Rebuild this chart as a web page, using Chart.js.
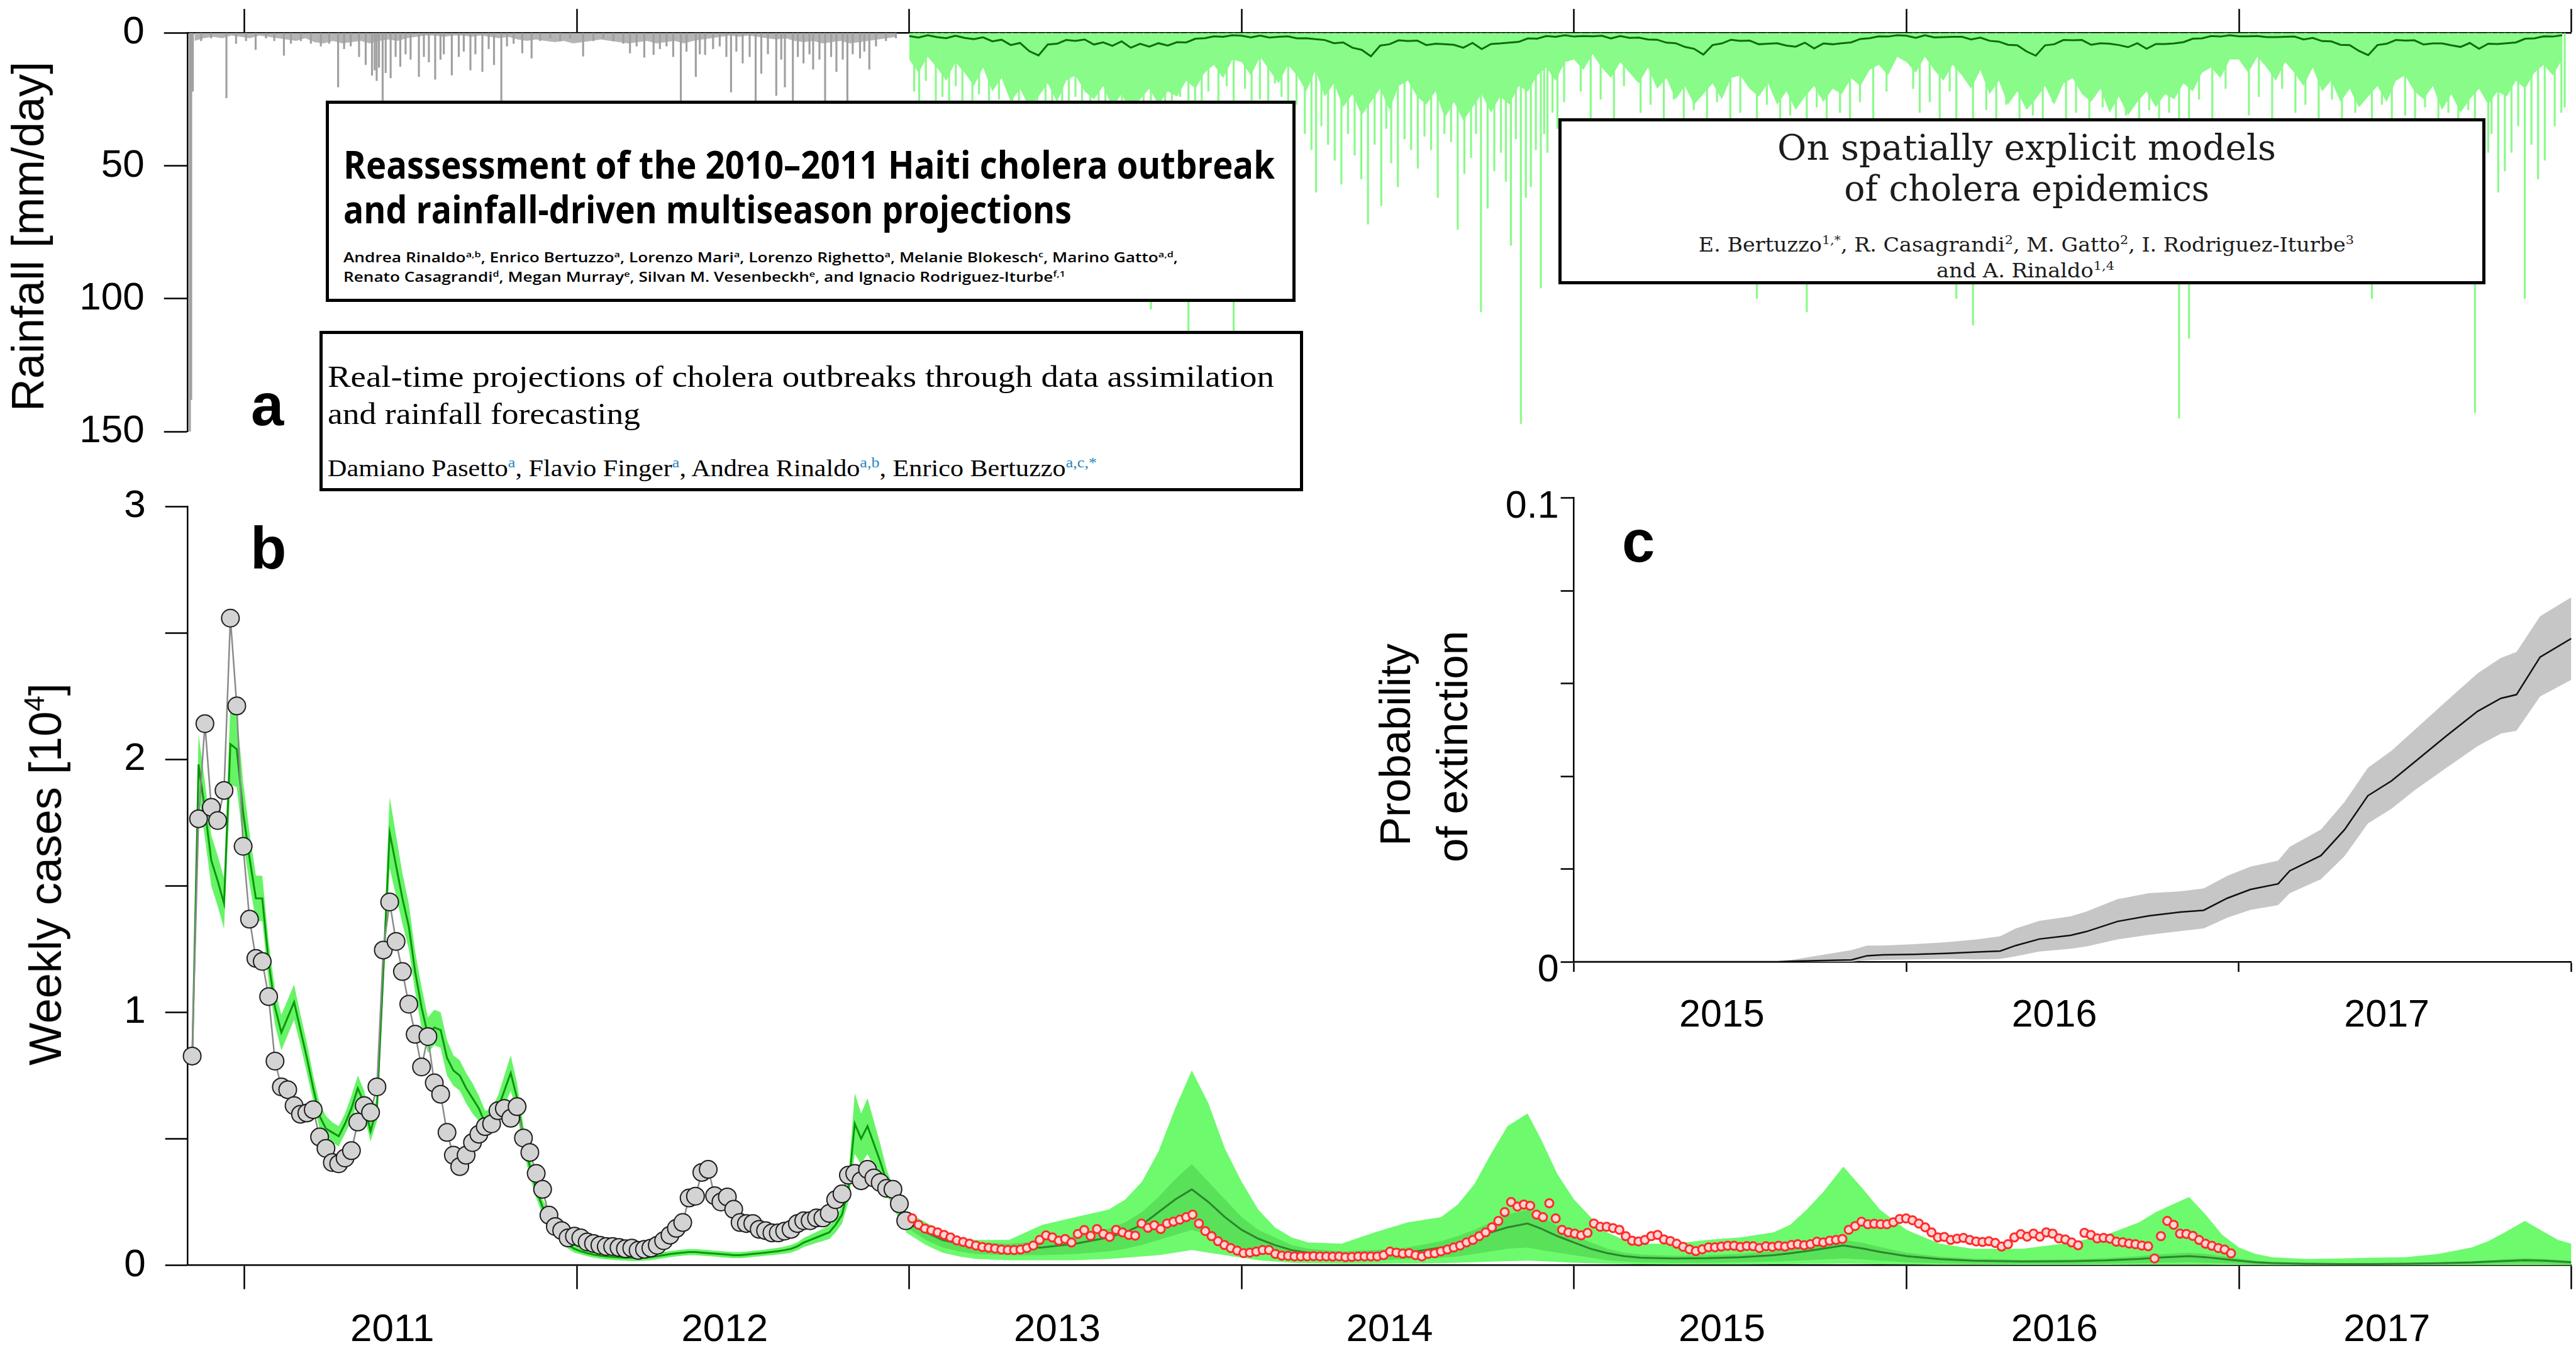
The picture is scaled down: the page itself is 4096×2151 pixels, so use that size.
<!DOCTYPE html>
<html>
<head>
<meta charset="utf-8">
<script src="https://cdn.jsdelivr.net/npm/chart.js@4.4.1/dist/chart.umd.min.js"></script>
<style>
  html, body { margin: 0; padding: 0; background: #fff; }
  #stage { position: relative; width: 4096px; height: 2151px; overflow: hidden; background: #fff; }
  #stage canvas { position: absolute; left: 0; top: 0; }
  .box { position: absolute; box-sizing: border-box; border: 5px solid #000; background: #fff; }
  .txt { position: absolute; white-space: nowrap; line-height: 1.15; color: #000; }
  .txt sup { font-size: 62%; vertical-align: 0; position: relative; top: -0.6em; }
  .blue { color: #2a86c0; }
</style>
</head>
<body>
<div id="stage">
  <canvas id="rainChart" width="4096" height="2151"></canvas>
  <canvas id="caseChart" width="4096" height="2151"></canvas>
  <canvas id="extChart" width="4096" height="2151"></canvas>
</div>
<script>
// ---------------- data ----------------
// tick labels
const yearLabels = ['2011', '2012', '2013', '2014', '2015', '2016', '2017'];
const extYearLabels = ['2015', '2016', '2017'];
const yearBounds = [2011, 2012, 2013, 2014, 2015, 2016, 2017, 2018];
const extYearBounds = [2015, 2016, 2017, 2018];
const rainTickValues = [0, 50, 100, 150];
const rainTickLabels = ['0', '50', '100', '150'];
const caseTickValues = [0, 0.5, 1, 1.5, 2, 2.5, 3];
const caseTickLabels = ['0', '', '1', '', '2', '', '3'];
const extTickValues = [0, 0.02, 0.04, 0.06, 0.08, 0.1];
const extTickLabels = ['0', '', '', '', '', '0.1'];

// observed weekly cases [10^4], weekly from the first report
const obsStart = 2010.843;
const obsCases = [
  0.827, 1.765, 2.141, 1.81, 1.758, 1.877, 2.558, 2.211, 1.656, 1.368,
  1.213, 1.201, 1.062, 0.807, 0.705, 0.694, 0.631, 0.597, 0.602, 0.615,
  0.507, 0.462, 0.406, 0.401, 0.424, 0.453, 0.566, 0.631, 0.604, 0.705,
  1.246, 1.436, 1.28, 1.161, 1.032, 0.913, 0.784, 0.904, 0.721, 0.676,
  0.525, 0.435, 0.39, 0.435, 0.485, 0.518, 0.548, 0.559, 0.611, 0.62,
  0.581, 0.627, 0.503, 0.446, 0.363, 0.30, 0.198, 0.153, 0.137, 0.108,
  0.115, 0.108, 0.092, 0.086, 0.079, 0.074, 0.074, 0.07, 0.065, 0.068,
  0.059, 0.063, 0.068, 0.079, 0.097, 0.119, 0.146, 0.169, 0.266, 0.273,
  0.367, 0.379, 0.275, 0.25, 0.27, 0.221, 0.169, 0.165, 0.165, 0.142,
  0.137, 0.128, 0.128, 0.135, 0.142, 0.165, 0.176, 0.176, 0.187, 0.187,
  0.205, 0.259, 0.282, 0.356, 0.363, 0.334, 0.379, 0.345, 0.327, 0.304,
  0.30, 0.243, 0.176
];

// model fit over the calibration period (same weeks), median and half-width of the band
const fitMedian = [
  0.80, 1.98, 1.80, 1.60, 1.52, 1.43, 2.06, 2.04, 1.79, 1.61,
  1.45, 1.45, 1.20, 1.02, 0.92, 0.98, 1.04, 0.93, 0.82, 0.70,
  0.59, 0.54, 0.525, 0.51, 0.56, 0.62, 0.70, 0.64, 0.53, 0.62,
  1.16, 1.71, 1.58, 1.45, 1.34, 1.16, 1.02, 0.91, 0.94, 0.93,
  0.82, 0.77, 0.75, 0.70, 0.66, 0.62, 0.56, 0.57, 0.62, 0.69,
  0.76, 0.66, 0.50, 0.39, 0.30, 0.23, 0.19, 0.14, 0.11, 0.08,
  0.065, 0.055, 0.048, 0.042, 0.038, 0.035, 0.033, 0.031, 0.030, 0.029,
  0.029, 0.030, 0.032, 0.036, 0.040, 0.044, 0.047, 0.050, 0.052, 0.052,
  0.050, 0.048, 0.046, 0.044, 0.042, 0.040, 0.040, 0.042, 0.045, 0.047,
  0.050, 0.053, 0.056, 0.060, 0.065, 0.075, 0.090, 0.100, 0.110, 0.120,
  0.130, 0.160, 0.200, 0.300, 0.560, 0.500, 0.550, 0.480, 0.410, 0.330,
  0.270, 0.220, 0.170
];
const fitSpread = [
  0.06, 0.12, 0.11, 0.10, 0.10, 0.10, 0.16, 0.15, 0.12, 0.10,
  0.09, 0.09, 0.08, 0.07, 0.07, 0.07, 0.07, 0.06, 0.06, 0.05,
  0.05, 0.05, 0.04, 0.04, 0.04, 0.05, 0.05, 0.05, 0.04, 0.05,
  0.08, 0.14, 0.12, 0.10, 0.09, 0.08, 0.08, 0.07, 0.07, 0.07,
  0.07, 0.06, 0.06, 0.06, 0.06, 0.05, 0.05, 0.05, 0.05, 0.06,
  0.07, 0.06, 0.05, 0.04, 0.035, 0.03, 0.025, 0.02, 0.02, 0.015,
  0.015, 0.012, 0.012, 0.012, 0.012, 0.012, 0.012, 0.012, 0.012, 0.012,
  0.012, 0.012, 0.012, 0.012, 0.012, 0.012, 0.012, 0.012, 0.012, 0.012,
  0.012, 0.012, 0.012, 0.012, 0.012, 0.012, 0.012, 0.012, 0.012, 0.012,
  0.012, 0.013, 0.013, 0.014, 0.015, 0.016, 0.018, 0.02, 0.022, 0.024,
  0.026, 0.03, 0.035, 0.05, 0.12, 0.10, 0.11, 0.09, 0.07, 0.05,
  0.04, 0.04, 0.03
];

// later weekly reports (red), from January 2013
const laterStart = 2013.009;
const laterCases = [
  // 2013
  0.185, 0.16, 0.145, 0.138, 0.13, 0.12, 0.11, 0.098, 0.092, 0.085,
  0.078, 0.072, 0.069, 0.066, 0.062, 0.06, 0.06, 0.062, 0.068, 0.078,
  0.1, 0.118, 0.11, 0.097, 0.104, 0.09, 0.124, 0.139, 0.116, 0.143,
  0.124, 0.112, 0.14, 0.13, 0.12, 0.117, 0.165, 0.148, 0.158, 0.143,
  0.165, 0.172, 0.18, 0.19, 0.2, 0.165, 0.135, 0.115, 0.095, 0.08,
  0.068, 0.058,
  // 2014
  0.048, 0.05, 0.054, 0.06, 0.06, 0.045, 0.038, 0.037, 0.035, 0.035,
  0.035, 0.036, 0.035, 0.035, 0.034, 0.035, 0.032, 0.033, 0.035, 0.035,
  0.035, 0.035, 0.04, 0.054, 0.05, 0.046, 0.048, 0.04, 0.035, 0.045,
  0.047, 0.055, 0.062, 0.07, 0.078, 0.09, 0.1, 0.115, 0.13, 0.15,
  0.175, 0.21, 0.25, 0.232, 0.24, 0.235, 0.2, 0.19, 0.245, 0.185,
  0.14, 0.13,
  // 2015
  0.125, 0.118, 0.128, 0.165, 0.152, 0.152, 0.147, 0.14, 0.115, 0.097,
  0.094, 0.1, 0.115, 0.12, 0.102, 0.096, 0.085, 0.073, 0.063, 0.056,
  0.063, 0.071, 0.071, 0.074, 0.077, 0.077, 0.072, 0.076, 0.075, 0.068,
  0.075, 0.073, 0.077, 0.074, 0.08, 0.083, 0.079, 0.083, 0.093, 0.09,
  0.097, 0.1, 0.104, 0.14, 0.155, 0.172, 0.162, 0.164, 0.162, 0.162,
  0.17, 0.183,
  // 2016
  0.185, 0.178, 0.165, 0.15, 0.13, 0.11, 0.112, 0.1, 0.105, 0.108,
  0.1, 0.094, 0.092, 0.095, 0.088, 0.074, 0.083, 0.11, 0.123, 0.113,
  0.125, 0.113, 0.13, 0.125, 0.106, 0.102, 0.09, 0.079, 0.128, 0.12,
  0.106, 0.108, 0.105, 0.093, 0.091, 0.086, 0.083, 0.078, 0.075, 0.027,
  0.115, 0.175, 0.16, 0.125, 0.124, 0.116, 0.1, 0.085, 0.077, 0.068,
  0.062, 0.047
];

// multiseason projection
const projDates = [
  2012.99, 2013.05, 2013.10, 2013.15, 2013.20, 2013.30, 2013.40, 2013.50, 2013.60, 2013.65,
  2013.70, 2013.75, 2013.80, 2013.85, 2013.90, 2013.95, 2014.00, 2014.05, 2014.10, 2014.15,
  2014.20, 2014.30, 2014.40, 2014.50, 2014.60, 2014.65, 2014.70, 2014.75, 2014.80, 2014.86,
  2014.90, 2014.95, 2015.00, 2015.05, 2015.10, 2015.15, 2015.20, 2015.30, 2015.40, 2015.50,
  2015.60, 2015.65, 2015.70, 2015.75, 2015.81, 2015.87, 2015.92, 2016.00, 2016.10, 2016.20,
  2016.35, 2016.50, 2016.60, 2016.70, 2016.75, 2016.85, 2016.90, 2016.95, 2017.00, 2017.05,
  2017.10, 2017.20, 2017.30, 2017.40, 2017.50, 2017.60, 2017.70, 2017.75, 2017.80, 2017.86,
  2017.92, 2017.96, 2018.00
];
const projHigh = [
  0.21, 0.17, 0.135, 0.11, 0.10, 0.10, 0.16, 0.19, 0.22, 0.26,
  0.33, 0.45, 0.62, 0.77, 0.64, 0.46, 0.33, 0.22, 0.15, 0.11,
  0.09, 0.085, 0.13, 0.17, 0.19, 0.24, 0.32, 0.44, 0.55, 0.60,
  0.50, 0.36, 0.26, 0.19, 0.13, 0.10, 0.085, 0.085, 0.10, 0.11,
  0.13, 0.16, 0.22, 0.29, 0.39, 0.30, 0.22, 0.14, 0.085, 0.065,
  0.065, 0.09, 0.12, 0.17, 0.21, 0.27, 0.20, 0.12, 0.07, 0.045,
  0.032, 0.025, 0.027, 0.03, 0.032, 0.045, 0.07, 0.095, 0.13, 0.175,
  0.13, 0.10, 0.085
];
const projMedian = [
  0.17, 0.13, 0.10, 0.085, 0.075, 0.065, 0.07, 0.085, 0.11, 0.13,
  0.16, 0.21, 0.26, 0.30, 0.25, 0.19, 0.14, 0.105, 0.08, 0.06,
  0.05, 0.04, 0.042, 0.05, 0.07, 0.085, 0.105, 0.13, 0.15, 0.165,
  0.145, 0.115, 0.09, 0.065, 0.048, 0.036, 0.03, 0.027, 0.028, 0.032,
  0.04, 0.047, 0.056, 0.066, 0.078, 0.066, 0.053, 0.036, 0.024, 0.018,
  0.015, 0.016, 0.019, 0.025, 0.03, 0.036, 0.032, 0.025, 0.018, 0.012,
  0.009, 0.006, 0.005, 0.005, 0.006, 0.008, 0.011, 0.014, 0.017, 0.02,
  0.018, 0.015, 0.012
];
const projLow = [
  0.13, 0.08, 0.05, 0.035, 0.025, 0.02, 0.02, 0.02, 0.025, 0.03,
  0.035, 0.04, 0.05, 0.06, 0.05, 0.04, 0.03, 0.02, 0.015, 0.01,
  0.008, 0.006, 0.006, 0.007, 0.008, 0.01, 0.012, 0.014, 0.016, 0.018,
  0.016, 0.013, 0.01, 0.008, 0.006, 0.005, 0.004, 0.003, 0.003, 0.003,
  0.004, 0.004, 0.005, 0.005, 0.006, 0.005, 0.004, 0.003, 0.002, 0.002,
  0.001, 0.001, 0.001, 0.002, 0.002, 0.002, 0.002, 0.001, 0.001, 0.001,
  0, 0, 0, 0, 0, 0, 0, 0, 0, 0,
  0, 0, 0
];
const projInnerHigh = [
  0.19, 0.15, 0.12, 0.10, 0.09, 0.085, 0.095, 0.115, 0.145, 0.17,
  0.21, 0.27, 0.34, 0.40, 0.33, 0.26, 0.19, 0.14, 0.11, 0.08,
  0.065, 0.055, 0.06, 0.07, 0.095, 0.115, 0.14, 0.17, 0.20, 0.22,
  0.195, 0.155, 0.12, 0.09, 0.065, 0.05, 0.042, 0.038, 0.04, 0.045,
  0.055, 0.065, 0.075, 0.088, 0.10, 0.088, 0.072, 0.05, 0.034, 0.026,
  0.022, 0.023, 0.028, 0.036, 0.042, 0.05, 0.045, 0.036, 0.027, 0.018,
  0.013, 0.009, 0.008, 0.008, 0.009, 0.012, 0.016, 0.02, 0.024, 0.028,
  0.025, 0.021, 0.018
];
const projInnerLow = [
  0.15, 0.10, 0.07, 0.055, 0.045, 0.04, 0.04, 0.045, 0.055, 0.065,
  0.08, 0.10, 0.12, 0.14, 0.12, 0.09, 0.07, 0.05, 0.04, 0.03,
  0.025, 0.02, 0.02, 0.025, 0.03, 0.035, 0.045, 0.055, 0.065, 0.07,
  0.06, 0.05, 0.04, 0.03, 0.02, 0.015, 0.012, 0.01, 0.01, 0.012,
  0.015, 0.017, 0.02, 0.023, 0.027, 0.023, 0.018, 0.012, 0.008, 0.006,
  0.005, 0.005, 0.006, 0.008, 0.01, 0.012, 0.01, 0.008, 0.006, 0.004,
  0.003, 0.002, 0.002, 0.002, 0.002, 0.003, 0.004, 0.005, 0.006, 0.007,
  0.006, 0.005, 0.004
];

// probability of extinction (panel c)
const extDates = [
  2015.0, 2015.612, 2015.647, 2015.835, 2015.882, 2015.929, 2016.024, 2016.118, 2016.212, 2016.282,
  2016.329, 2016.4, 2016.494, 2016.541, 2016.635, 2016.729, 2016.824, 2016.894, 2016.965, 2017.035,
  2017.118, 2017.153, 2017.247, 2017.318, 2017.388, 2017.459, 2017.529, 2017.624, 2017.718, 2017.788,
  2017.835, 2017.906, 2018.0
];
const extMedian = [
  0, 0, 0.0001, 0.0004, 0.0013, 0.0015, 0.0016, 0.0018, 0.0021, 0.0023,
  0.0035, 0.0049, 0.0057, 0.0065, 0.0087, 0.0099, 0.0107, 0.0111, 0.0137, 0.0156,
  0.0168, 0.0196, 0.0229, 0.0285, 0.0358, 0.039, 0.0431, 0.0487, 0.054, 0.0568,
  0.0576, 0.0657, 0.0697
];
const extHigh = [
  0, 0, 0.0003, 0.0025, 0.0035, 0.0035, 0.0038, 0.0042, 0.0048, 0.0055,
  0.0072, 0.0088, 0.0098, 0.0108, 0.0135, 0.0148, 0.0152, 0.0158, 0.0185, 0.0205,
  0.0218, 0.0248, 0.0285, 0.0345, 0.0418, 0.0455, 0.05, 0.0562, 0.0622, 0.0655,
  0.0668, 0.0745, 0.0786
];
const extLow = [
  0, 0, 0, 0, 0.0003, 0.0004, 0.0005, 0.0006, 0.0005, 0.0006,
  0.0012, 0.0022, 0.0028, 0.0033, 0.0048, 0.0058, 0.0066, 0.0072, 0.0095, 0.0112,
  0.0122, 0.0148, 0.0178, 0.0228, 0.0298, 0.033, 0.037, 0.0418, 0.0465, 0.0492,
  0.0498, 0.0572, 0.0608
];

// observed daily rainfall, main events [year, mm/day]
const obsRainEvents = [
  [2010.836, 150], [2010.840, 138], [2010.845, 22], [2010.870, 3], [2010.900, 2], [2010.946, 24.5],
  [2010.975, 4], [2011.005, 3], [2011.034, 6.3], [2011.065, 2], [2011.090, 3], [2011.119, 8.5],
  [2011.140, 4], [2011.170, 3], [2011.200, 4], [2011.230, 5], [2011.255, 4], [2011.282, 20.4],
  [2011.300, 6], [2011.320, 5], [2011.345, 9], [2011.365, 12], [2011.384, 16], [2011.392, 14],
  [2011.398, 18], [2011.405, 13], [2011.416, 30], [2011.425, 15], [2011.440, 17], [2011.455, 9],
  [2011.469, 12.7], [2011.485, 8], [2011.500, 10], [2011.525, 16.5], [2011.540, 9], [2011.555, 11],
  [2011.574, 17.5], [2011.590, 10], [2011.600, 8], [2011.624, 15.9], [2011.645, 9], [2011.660, 7],
  [2011.680, 14], [2011.695, 8], [2011.716, 14.6], [2011.735, 6], [2011.751, 12], [2011.773, 30],
  [2011.790, 5], [2011.810, 4], [2011.836, 7.6], [2011.864, 9.5], [2011.890, 3], [2011.920, 2],
  [2011.950, 3], [2011.980, 2], [2012.019, 8.8], [2012.050, 3], [2012.080, 2], [2012.110, 3],
  [2012.140, 4], [2012.160, 7.6], [2012.180, 5], [2012.203, 9.2], [2012.231, 8.2], [2012.250, 6],
  [2012.270, 5], [2012.290, 9], [2012.313, 30], [2012.330, 7], [2012.358, 16.5], [2012.370, 8],
  [2012.386, 8.2], [2012.410, 6], [2012.430, 5], [2012.450, 9], [2012.464, 22.3], [2012.480, 7],
  [2012.499, 11.4], [2012.520, 9], [2012.538, 30], [2012.555, 15.3], [2012.575, 8], [2012.600, 23.6],
  [2012.615, 10], [2012.626, 20.4], [2012.650, 30], [2012.665, 9], [2012.682, 11.4], [2012.700, 8],
  [2012.711, 13.7], [2012.730, 10], [2012.747, 30], [2012.765, 9], [2012.781, 14.6], [2012.800, 10],
  [2012.814, 30], [2012.830, 8], [2012.852, 9.5], [2012.865, 7], [2012.880, 13.7], [2012.900, 5],
  [2012.930, 3], [2012.960, 2]
];
// light daily rain under the main events, every ~10 days from Nov 2010
const obsRainStart = 2010.85;
const obsRainLight = [
  3, 2, 1.5, 2, 1, 1.5, 2, 1, 1.5, 2,
  2.5, 3, 2, 3.5, 4, 3, 4, 3.5, 3, 4,
  3, 2.5, 3, 2, 1.5, 1, 1, 1.5, 1, 1,
  1.5, 1, 1.5, 2, 1.5, 2.5, 3, 2.5, 3, 3.5,
  3, 4, 3.5, 3, 2.5, 3, 3.5, 4, 3.5, 3,
  4, 3.5, 3, 4, 3, 2.5, 2, 1.5, 1, 1.5,
  1, 1.5, 2, 2.5, 2, 3, 3.5, 3, 4, 3.5,
  3, 4, 3.5, 3, 2.5, 2, 1.5
];

// generated rainfall ensemble 2013-2017, ~10-day steps (36 per year)
const rainGenStart = 2013.0;
const rainGenSpread = [
  10, 15, 9, 13, 18, 11, 15, 20, 13, 22, 17, 26, 21, 28, 24, 19, 26, 18,
  16, 22, 25, 20, 28, 23, 30, 25, 21, 27, 22, 24, 18, 21, 15, 12, 17, 10,
  11, 16, 9, 14, 19, 12, 16, 22, 14, 24, 19, 28, 23, 31, 26, 21, 29, 20,
  18, 24, 27, 22, 32, 26, 33, 28, 23, 30, 24, 27, 20, 22, 16, 13, 18, 11,
  10, 14, 8, 13, 17, 11, 15, 19, 13, 21, 17, 25, 20, 27, 23, 19, 25, 17,
  16, 21, 24, 19, 27, 22, 29, 24, 20, 26, 21, 23, 17, 20, 14, 12, 16, 9,
  11, 15, 9, 14, 18, 12, 16, 21, 14, 23, 18, 27, 22, 29, 25, 20, 27, 19,
  17, 23, 26, 21, 30, 24, 31, 26, 22, 28, 23, 25, 19, 22, 15, 13, 17, 10,
  10, 15, 9, 13, 18, 11, 15, 20, 13, 22, 18, 26, 21, 28, 24, 20, 26, 18,
  16, 22, 25, 20, 29, 23, 30, 25, 21, 27, 22, 24, 18, 21, 15, 12, 16, 10
];
const rainGenMedian = [
  1.2, 1.8, 0.9, 1.6, 2.0, 1.1, 1.9, 2.4, 1.7, 3.2, 2.6, 4.6, 3.8, 6.9, 8.5, 4.4, 4.1, 2.7,
  3.0, 2.5, 4.4, 3.6, 4.9, 3.2, 5.6, 4.1, 5.2, 3.9, 4.8, 3.5, 3.6, 2.2, 2.0, 1.3, 1.5, 0.9,
  1.1, 1.7, 1.0, 1.8, 1.5, 1.3, 2.1, 2.0, 2.4, 2.7, 3.9, 3.6, 5.6, 6.4, 8.8, 4.8, 4.3, 2.8,
  3.1, 2.9, 4.6, 4.1, 4.3, 4.5, 5.6, 3.8, 6.1, 4.2, 4.0, 3.7, 3.4, 2.1, 2.2, 1.2, 1.5, 0.9,
  1.4, 1.2, 1.3, 1.1, 2.1, 1.2, 1.9, 1.8, 2.5, 2.6, 3.7, 3.9, 5.3, 6.0, 8.2, 4.6, 4.0, 2.6,
  3.0, 2.9, 4.3, 4.1, 3.9, 4.8, 5.2, 3.7, 5.9, 4.0, 4.3, 3.9, 3.6, 2.3, 2.0, 1.3, 1.4, 0.9,
  1.1, 1.9, 0.9, 1.7, 1.6, 1.5, 1.5, 2.5, 1.8, 3.0, 3.3, 4.5, 4.7, 7.0, 8.6, 4.7, 4.3, 2.7,
  2.8, 2.7, 4.5, 3.9, 4.1, 4.6, 5.4, 3.9, 6.0, 4.2, 4.2, 4.0, 3.5, 2.2, 2.1, 1.2, 1.4, 0.9,
  1.3, 1.3, 1.2, 1.6, 1.6, 1.5, 1.4, 2.5, 1.9, 3.1, 3.2, 4.5, 4.6, 6.8, 8.4, 4.6, 4.1, 2.7,
  2.9, 2.8, 4.4, 4.0, 4.0, 4.7, 5.3, 3.8, 6.0, 4.1, 4.2, 3.9, 3.6, 2.2, 2.1, 1.3, 1.4, 0.9
];
// isolated heavy days within the generated ensemble [year, mm/day]
const rainGenEvents = [
  [2013.03, 30], [2013.08, 34], [2013.12, 28], [2013.19, 38], [2013.24, 31], [2013.31, 45],
  [2013.36, 40], [2013.41, 52], [2013.46, 36], [2013.52, 44], [2013.57, 33], [2013.62, 48],
  [2013.68, 39], [2013.727, 104], [2013.77, 42], [2013.84, 115], [2013.88, 37], [2013.93, 30],
  [2013.976, 115], [2014.03, 28], [2014.08, 33], [2014.14, 30], [2014.19, 38], [2014.224, 60],
  [2014.26, 42], [2014.30, 57], [2014.34, 46], [2014.38, 72], [2014.42, 65], [2014.45, 49],
  [2014.49, 40], [2014.53, 51], [2014.57, 44], [2014.61, 38], [2014.65, 74], [2014.69, 47],
  [2014.72, 105], [2014.76, 52], [2014.81, 80], [2014.84, 147], [2014.87, 58], [2014.90, 96],
  [2014.92, 45], [2014.95, 36], [2015.05, 32], [2015.12, 35], [2015.20, 30], [2015.27, 40],
  [2015.33, 45], [2015.40, 38], [2015.47, 50], [2015.55, 100], [2015.62, 42], [2015.70, 105],
  [2015.76, 44], [2015.83, 48], [2015.90, 36], [2016.04, 30], [2016.10, 34], [2016.15, 100],
  [2016.20, 110], [2016.27, 42], [2016.34, 50], [2016.41, 39], [2016.48, 46], [2016.55, 40],
  [2016.63, 52], [2016.70, 44], [2016.76, 38], [2016.82, 145], [2016.85, 115], [2016.92, 34],
  [2017.03, 31], [2017.10, 36], [2017.17, 30], [2017.24, 42], [2017.31, 48], [2017.40, 100],
  [2017.46, 44], [2017.53, 52], [2017.60, 40], [2017.66, 47], [2017.71, 143], [2017.75, 45],
  [2017.78, 60], [2017.82, 45], [2017.86, 100], [2017.90, 55], [2017.95, 35], [2017.98, 28],
  [2013.015, 22], [2013.05, 18], [2013.10, 24], [2013.14, 20], [2013.16, 26], [2013.21, 23],
  [2013.27, 25], [2013.29, 20], [2013.33, 28], [2013.385, 30], [2013.43, 26], [2013.48, 29],
  [2013.50, 24], [2013.545, 27], [2013.59, 31], [2013.64, 28], [2013.66, 25], [2013.705, 30],
  [2013.75, 27], [2013.79, 29], [2013.815, 24], [2013.86, 26], [2013.90, 22], [2013.955, 20],
  [2014.01, 21], [2014.055, 25], [2014.10, 19], [2014.12, 24], [2014.165, 27], [2014.21, 44],
  [2014.24, 35], [2014.28, 48], [2014.32, 38], [2014.36, 55], [2014.40, 42], [2014.435, 36],
  [2014.47, 58], [2014.51, 44], [2014.55, 39], [2014.59, 62], [2014.63, 41], [2014.67, 53],
  [2014.705, 38], [2014.74, 66], [2014.78, 45], [2014.795, 56], [2014.825, 40], [2014.855, 62],
  [2014.885, 44], [2014.91, 38], [2014.935, 30], [2014.97, 26], [2015.02, 22], [2015.08, 25],
  [2015.15, 20], [2015.23, 27], [2015.30, 25], [2015.36, 29], [2015.43, 26], [2015.50, 30],
  [2015.58, 27], [2015.65, 31], [2015.73, 28], [2015.80, 30], [2015.86, 26], [2015.94, 22],
  [2016.02, 21], [2016.07, 26], [2016.13, 22], [2016.24, 29], [2016.30, 27], [2016.38, 31],
  [2016.44, 26], [2016.51, 30], [2016.59, 28], [2016.66, 31], [2016.73, 29], [2016.79, 30],
  [2016.88, 25], [2016.96, 21], [2017.06, 24], [2017.13, 21], [2017.20, 27], [2017.28, 25],
  [2017.35, 30], [2017.43, 27], [2017.50, 31], [2017.56, 28], [2017.63, 30], [2017.69, 29],
  [2017.76, 38], [2017.80, 52], [2017.84, 35], [2017.88, 42], [2017.92, 48], [2017.97, 30]
];

// ---------------- helpers ----------------
const SANS = "'Liberation Sans', Arial, Helvetica, sans-serif";
const AXIS = '#000';
const AXW = 2.5;
const W = 4096, H = 2151;
const X_MIN = 2010.83, X_MAX = 2018.0;
const PLOT_LEFT = 298.7, PLOT_RIGHT = 4088.6;

const weekly = (start, n) => Array.from({ length: n }, (_, i) => start + i * 7 / 365.25);
const stepped = (start, n, per) => Array.from({ length: n }, (_, i) => start + i / per);
const pts = (xs, ys) => ys.map((y, i) => ({ x: xs[i], y }));

// horizontal date axis: tick marks at year boundaries, labels inside each year
function timeAxis(o) {
  const values = o.bounds.concat(o.labels.map(l => +l + 0.445));
  const nb = o.bounds.length;
  return {
    type: 'linear', position: o.position, min: o.min, max: o.max, offset: false, z: 2,
    border: { display: true, color: AXIS, width: AXW },
    grid: {
      display: true, drawOnChartArea: false, drawTicks: true, offset: false,
      tickLength: o.tickLength, tickWidth: AXW,
      tickColor: c => (c.index < nb ? AXIS : 'rgba(0,0,0,0)')
    },
    ticks: {
      autoSkip: false, maxRotation: 0, minRotation: 0, padding: o.padding, color: AXIS,
      font: { family: SANS, size: o.fontSize },
      callback: (v, i) => (i < nb ? '' : o.labels[i - nb])
    },
    afterBuildTicks: s => { s.ticks = values.map(v => ({ value: v })); },
    afterFit: s => { s.height = o.boxHeight; s.paddingLeft = 0; s.paddingRight = 0; }
  };
}

function valueAxis(o) {
  return {
    type: 'linear', position: 'left', min: o.min, max: o.max, reverse: !!o.reverse, z: 2,
    border: { display: true, color: AXIS, width: AXW },
    grid: { display: true, drawOnChartArea: false, drawTicks: true, tickLength: o.tickLength, tickWidth: AXW, tickColor: AXIS },
    ticks: {
      autoSkip: false, padding: o.padding, color: AXIS, labelOffset: o.labelOffset || 0,
      font: { family: SANS, size: o.fontSize },
      callback: (v, i) => o.labels[i]
    },
    afterBuildTicks: s => { s.ticks = o.values.map(v => ({ value: v })); },
    afterFit: s => { s.width = o.boxWidth; s.paddingTop = 0; s.paddingBottom = 0; }
  };
}

function baseOptions(pad) {
  return {
    responsive: false, animation: false, devicePixelRatio: 1, events: [],
    layout: { autoPadding: false, padding: pad },
    plugins: { legend: { display: false }, tooltip: { enabled: false }, title: { display: false } },
    elements: { line: { tension: 0 }, point: { radius: 0 } }
  };
}

// ---------------- panel a: rainfall ----------------
const rainGenX = stepped(rainGenStart, rainGenSpread.length, 36);
const obsLightX = stepped(obsRainStart, obsRainLight.length, 36);
const RAIN_GREEN = '#88fb88';

new Chart(document.getElementById('rainChart'), {
  type: 'bar',
  data: {
    datasets: [
      { type: 'line', data: pts(rainGenX, rainGenMedian), borderColor: '#0b6e0b', borderWidth: 3, pointRadius: 0, fill: false },
      { type: 'bar', data: rainGenEvents.map(e => ({ x: e[0], y: e[1] })), backgroundColor: RAIN_GREEN, barThickness: 2.5, grouped: false, borderWidth: 0 },
      { type: 'line', data: pts(rainGenX, rainGenSpread), borderWidth: 0, borderColor: 'rgba(0,0,0,0)', backgroundColor: RAIN_GREEN, pointRadius: 0, fill: 'origin' },
      { type: 'bar', data: obsRainEvents.map(e => ({ x: e[0], y: e[1] })), backgroundColor: '#a0a0a0', barThickness: 2.5, grouped: false, borderWidth: 0 },
      { type: 'line', data: pts(obsLightX, obsRainLight), borderWidth: 0, borderColor: 'rgba(0,0,0,0)', backgroundColor: '#b4b4b4', pointRadius: 0, fill: 'origin' }
    ]
  },
  options: Object.assign(baseOptions({ left: 0, right: W - PLOT_RIGHT, top: 0, bottom: H - 686 }), {
    scales: {
      x: timeAxis({ position: 'top', min: X_MIN, max: X_MAX, bounds: yearBounds, labels: [], tickLength: 38, padding: 0, fontSize: 62, boxHeight: 52.2 }),
      y: valueAxis({ min: 0, max: 150, reverse: true, values: rainTickValues, labels: rainTickLabels, tickLength: 38, padding: 31, fontSize: 62, boxWidth: PLOT_LEFT })
    }
  })
});

// ---------------- panel b: weekly cases ----------------
const obsX = weekly(obsStart, obsCases.length);
const laterX = weekly(laterStart, laterCases.length);

new Chart(document.getElementById('caseChart'), {
  type: 'line',
  data: {
    datasets: [
      { data: pts(laterX, laterCases), showLine: false, pointRadius: 6.5, pointBorderWidth: 3,
        pointBorderColor: '#ff2b2b', pointBackgroundColor: '#ffd6d6', clip: false },
      { data: pts(obsX, obsCases), borderColor: '#8a8a8a', borderWidth: 2.5, pointRadius: 14,
        pointBorderWidth: 2, pointBorderColor: '#1e1e1e', pointBackgroundColor: '#d3d3d3', clip: false },
      { data: pts(obsX, fitMedian), borderColor: '#0c960c', borderWidth: 3, pointRadius: 0 },
      { data: pts(projDates, projMedian), borderColor: 'rgba(25,95,25,0.7)', borderWidth: 3, pointRadius: 0 },
      { data: pts(projDates, projInnerHigh), borderWidth: 0, borderColor: 'rgba(0,0,0,0)', backgroundColor: 'rgba(30,150,30,0.25)', pointRadius: 0, fill: 5 },
      { data: pts(projDates, projInnerLow), borderWidth: 0, borderColor: 'rgba(0,0,0,0)', pointRadius: 0, fill: false },
      { data: pts(projDates, projHigh), borderWidth: 0, borderColor: 'rgba(0,0,0,0)', backgroundColor: '#6dfa6d', pointRadius: 0, fill: 7 },
      { data: pts(projDates, projLow), borderWidth: 0, borderColor: 'rgba(0,0,0,0)', pointRadius: 0, fill: false },
      { data: pts(obsX, fitMedian.map((m, i) => m + fitSpread[i])), borderWidth: 0, borderColor: 'rgba(0,0,0,0)', backgroundColor: '#66f466', pointRadius: 0, fill: 9 },
      { data: pts(obsX, fitMedian.map((m, i) => Math.max(0, m - fitSpread[i]))), borderWidth: 0, borderColor: 'rgba(0,0,0,0)', pointRadius: 0, fill: false }
    ]
  },
  options: Object.assign(baseOptions({ left: 0, right: W - PLOT_RIGHT, top: 805, bottom: 0 }), {
    scales: {
      x: timeAxis({ position: 'bottom', min: X_MIN, max: X_MAX, bounds: yearBounds, labels: yearLabels, tickLength: 38, padding: 28, fontSize: 62, boxHeight: H - 2011.5 }),
      y: valueAxis({ min: 0, max: 3, values: caseTickValues, labels: caseTickLabels, tickLength: 36, padding: 31, fontSize: 62, boxWidth: PLOT_LEFT })
    }
  })
});

// ---------------- panel c: probability of extinction ----------------
new Chart(document.getElementById('extChart'), {
  type: 'line',
  data: {
    datasets: [
      { data: pts(extDates, extMedian), borderColor: '#111', borderWidth: 2.5, pointRadius: 0 },
      { data: pts(extDates, extHigh), borderWidth: 0, borderColor: 'rgba(0,0,0,0)', backgroundColor: '#c6c6c6', pointRadius: 0, fill: 2 },
      { data: pts(extDates, extLow), borderWidth: 0, borderColor: 'rgba(0,0,0,0)', pointRadius: 0, fill: false }
    ]
  },
  options: Object.assign(baseOptions({ left: 2300, right: W - PLOT_RIGHT, top: 791.7, bottom: 480 }), {
    scales: {
      x: timeAxis({ position: 'bottom', min: 2015, max: 2018, bounds: extYearBounds, labels: extYearLabels, tickLength: 16, padding: 34, fontSize: 61, boxHeight: H - 480 - 1529 }),
      y: valueAxis({ min: 0, max: 0.1, values: extTickValues, labels: extTickLabels, tickLength: 21, padding: 3, fontSize: 61, labelOffset: 14, boxWidth: 2502.6 - 2300 })
    }
  })
});

// ---------------- text annotations ----------------
const stage = document.getElementById('stage');

function addBox(l, t, r, b) {
  const d = document.createElement('div');
  d.className = 'box';
  Object.assign(d.style, { left: l + 'px', top: t + 'px', width: (r - l) + 'px', height: (b - t) + 'px' });
  stage.appendChild(d);
}

// places one line of text with its baseline at y; optional target width, alignment, rotation
function placeText(o) {
  const el = document.createElement('div');
  el.className = 'txt';
  el.style.font = o.font;
  if (o.color) el.style.color = o.color;
  el.innerHTML = o.html + '<span style="display:inline-block;width:0;height:0;vertical-align:baseline"></span>';
  stage.appendChild(el);
  const marker = el.lastChild;
  const base = marker.getBoundingClientRect().top - el.getBoundingClientRect().top;
  const w = el.getBoundingClientRect().width;
  const sx = o.width ? o.width / w : 1;
  if (o.rotate) {
    el.style.left = (o.x - w / 2) + 'px';
    el.style.top = (o.y - base) + 'px';
    el.style.transformOrigin = (w / 2) + 'px ' + base + 'px';
    el.style.transform = 'rotate(-90deg) scaleX(' + sx + ')';
    return;
  }
  const align = o.align || 'left';
  const ox = align === 'left' ? 0 : align === 'center' ? w / 2 : w;
  el.style.left = (o.x - ox) + 'px';
  el.style.top = (o.y - base) + 'px';
  el.style.transformOrigin = ox + 'px ' + base + 'px';
  if (sx !== 1) el.style.transform = 'scaleX(' + sx + ')';
}

addBox(518, 160, 2060, 480);
addBox(508, 526, 2072, 781);
addBox(2478, 188, 3952, 452);

const SANS_B = "'Open Sans', 'Noto Sans', sans-serif";
const SERIF_A = "'Liberation Serif', 'Times New Roman', serif";
const SERIF_B = "'DejaVu Serif', serif";

const textLines = [
  { html: 'Reassessment of the 2010–2011 Haiti cholera outbreak', font: `700 61px ${SANS_B}`, x: 546, y: 284, width: 1481 },
  { html: 'and rainfall-driven multiseason projections', font: `700 61px ${SANS_B}`, x: 546, y: 355, width: 1158 },
  { html: 'Andrea Rinaldo<sup>a,b</sup>, Enrico Bertuzzo<sup>a</sup>, Lorenzo Mari<sup>a</sup>, Lorenzo Righetto<sup>a</sup>, Melanie Blokesch<sup>c</sup>, Marino Gatto<sup>a,d</sup>,',
    font: `600 21px ${SANS_B}`, x: 546, y: 417, width: 1327 },
  { html: 'Renato Casagrandi<sup>d</sup>, Megan Murray<sup>e</sup>, Silvan M. Vesenbeckh<sup>e</sup>, and Ignacio Rodriguez-Iturbe<sup>f,1</sup>',
    font: `600 21px ${SANS_B}`, x: 546, y: 448, width: 1148 },

  { html: 'Real-time projections of cholera outbreaks through data assimilation', font: `400 49px ${SERIF_A}`, x: 521, y: 615, width: 1505 },
  { html: 'and rainfall forecasting', font: `400 49px ${SERIF_A}`, x: 521, y: 674, width: 497 },
  { html: 'Damiano Pasetto<sup class="blue">a</sup>, Flavio Finger<sup class="blue">a</sup>, Andrea Rinaldo<sup class="blue">a,b</sup>, Enrico Bertuzzo<sup class="blue">a,c,*</sup>',
    font: `400 37px ${SERIF_A}`, x: 521, y: 757, width: 1223 },

  { html: 'On spatially explicit models', font: `400 56px ${SERIF_B}`, x: 3223, y: 254, width: 793, align: 'center', color: '#1c1c1c' },
  { html: 'of cholera epidemics', font: `400 56px ${SERIF_B}`, x: 3223, y: 319, width: 581, align: 'center', color: '#1c1c1c' },
  { html: 'E. Bertuzzo<sup>1,*</sup>, R. Casagrandi<sup>2</sup>, M. Gatto<sup>2</sup>, I. Rodriguez-Iturbe<sup>3</sup>',
    font: `400 31px ${SERIF_B}`, x: 3222, y: 400, width: 1042, align: 'center', color: '#1c1c1c' },
  { html: 'and A. Rinaldo<sup>1,4</sup>', font: `400 31px ${SERIF_B}`, x: 3220, y: 441, width: 283, align: 'center', color: '#1c1c1c' },

  // axis titles
  { html: 'Rainfall [mm/day]', font: `400 72px ${SANS}`, x: 69, y: 376, rotate: true },
  { html: 'Weekly cases [10<sup>4</sup>]', font: `400 72px ${SANS}`, x: 97, y: 1390, rotate: true },
  { html: 'Probability', font: `400 69px ${SANS}`, x: 2242, y: 1184, rotate: true },
  { html: 'of extinction', font: `400 69px ${SANS}`, x: 2333, y: 1187, rotate: true },

  // panel letters
  { html: 'a', font: `700 94px ${SANS}`, x: 399, y: 676 },
  { html: 'b', font: `700 94px ${SANS}`, x: 398, y: 904 },
  { html: 'c', font: `700 94px ${SANS}`, x: 2579, y: 893 }
];
textLines.forEach(placeText);
</script>
</body>
</html>
